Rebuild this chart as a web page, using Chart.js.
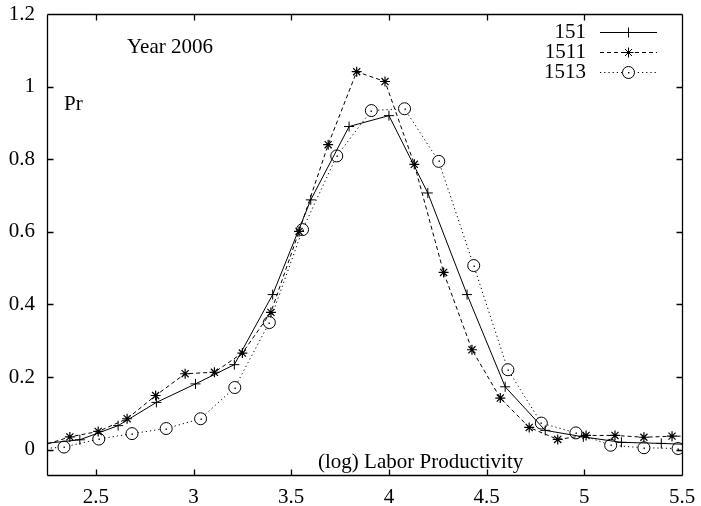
<!DOCTYPE html>
<html lang="en">
<head>
<meta charset="UTF-8">
<title>Year 2006 - Pr</title>
<style>
    html, body { margin: 0; padding: 0; background: #fff; }
    #wrap { width: 701px; height: 506px; }
</style>
</head>
<body>
<div id="wrap"><canvas id="chart" width="701" height="506"></canvas></div>

<script src="https://cdn.jsdelivr.net/npm/chart.js"></script>
<script>
    // axis ticks
    const xTicks = [2.5, 3, 3.5, 4, 4.5, 5, 5.5];
    const yTicks = [0, 0.2, 0.4, 0.6, 0.8, 1, 1.2];

    // series 151 (+)
    const x151 = [2.222, 2.418, 2.614, 2.81, 3.01, 3.209, 3.405, 3.60, 3.796, 4.0, 4.199, 4.40, 4.595, 4.80, 4.995, 5.19, 5.394, 5.59];
    const y151 = [0.016, 0.027, 0.066, 0.130, 0.181, 0.234, 0.427, 0.688, 0.890, 0.920, 0.707, 0.427, 0.173, 0.053, 0.035, 0.020, 0.017, 0.013];

    // series 1511 (*)
    const x1511 = [2.22, 2.367, 2.512, 2.66, 2.806, 2.957, 3.107, 3.25, 3.396, 3.54, 3.689, 3.835, 3.98, 4.13, 4.28, 4.425, 4.57, 4.718, 4.864, 5.009, 5.157, 5.305, 5.449, 5.596];
    const y1511 = [0.010, 0.035, 0.050, 0.085, 0.149, 0.209, 0.213, 0.266, 0.378, 0.601, 0.840, 1.041, 1.014, 0.786, 0.488, 0.275, 0.142, 0.061, 0.028, 0.039, 0.039, 0.034, 0.037, 0.037];

    // series 1513 (o)
    const x1513 = [2.162, 2.337, 2.515, 2.685, 2.86, 3.036, 3.211, 3.388, 3.558, 3.733, 3.91, 4.08, 4.255, 4.434, 4.609, 4.78, 4.957, 5.135, 5.305, 5.48];
    const y1513 = [0.0, 0.007, 0.029, 0.044, 0.058, 0.085, 0.171, 0.350, 0.606, 0.809, 0.934, 0.939, 0.794, 0.507, 0.220, 0.073, 0.046, 0.012, 0.005, 0.003];

    const FONT = "'Liberation Serif', 'Times New Roman', serif";
    const FSIZE = 21;
    Chart.defaults.font.family = FONT;
    Chart.defaults.font.size = FSIZE;
    Chart.defaults.color = '#000';

    function pts(xs, ys) {
        return xs.map((x, i) => ({ x: x, y: ys[i] }));
    }

    function line(ctx, x1, y1, x2, y2) {
        ctx.moveTo(x1, y1);
        ctx.lineTo(x2, y2);
    }

    // frame, inward ticks, circle dots, free text and legend
    const gnuplotLook = {
        id: 'gnuplotLook',
        afterDraw(chart) {
            const ctx = chart.ctx;
            const a = chart.chartArea;
            const xs = chart.scales.x, ys = chart.scales.y;
            const L = Math.round(a.left) + 0.5, R = Math.round(a.right) + 0.5;
            const T = Math.round(a.top) + 0.5, B = Math.round(a.bottom) + 0.5;
            ctx.save();
            ctx.strokeStyle = '#000';
            ctx.fillStyle = '#000';
            ctx.lineWidth = 1.3;
            ctx.setLineDash([]);
            ctx.beginPath();
            line(ctx, L, T, R, T);
            line(ctx, R, T, R, B);
            line(ctx, R, B, L, B);
            line(ctx, L, B, L, T);
            xs.ticks.forEach(t => {
                const px = Math.round(xs.getPixelForValue(t.value)) + 0.5;
                line(ctx, px, B, px, B - 6);
                line(ctx, px, T, px, T + 6);
            });
            ys.ticks.forEach(t => {
                const py = Math.round(ys.getPixelForValue(t.value)) + 0.5;
                line(ctx, L, py, L + 6, py);
                line(ctx, R, py, R - 6, py);
            });
            ctx.stroke();

            // centre dot inside the open circles
            chart.getDatasetMeta(2).data.forEach(p => {
                if (p.x >= a.left && p.x <= a.right) {
                    ctx.fillRect(Math.round(p.x) - 0.5, Math.round(p.y) - 0.5, 1.4, 1.4);
                }
            });

            ctx.font = FSIZE + 'px ' + FONT;
            ctx.textBaseline = 'middle';
            ctx.textAlign = 'left';
            ctx.fillText('Year 2006', 127, 47);
            ctx.fillText('Pr', 64, 104);
            ctx.fillText('(log) Labor Productivity', 318, 462);

            // legend
            ctx.lineWidth = 1;
            chart.data.datasets.forEach((ds, i) => {
                const y = 32 + i * 20;
                ctx.textAlign = 'right';
                ctx.fillText(ds.label, 586, y);
                ctx.beginPath();
                ctx.setLineDash(ds.borderDash || []);
                line(ctx, 600, y + 0.5, 657, y + 0.5);
                ctx.stroke();
                ctx.setLineDash([]);
                const mx = 628.5, my = y + 0.5;
                ctx.beginPath();
                const r = ds.pointRadius;
                if (ds.pointStyle === 'circle') {
                    ctx.fillStyle = '#fff';
                    ctx.arc(mx, my, r, 0, Math.PI * 2);
                    ctx.fill();
                    ctx.stroke();
                    ctx.fillStyle = '#000';
                    ctx.fillRect(mx - 0.5, my - 0.5, 1.4, 1.4);
                } else {
                    line(ctx, mx - r, my, mx + r, my);
                    line(ctx, mx, my - r, mx, my + r);
                    if (ds.pointStyle === 'star') {
                        const d = r * Math.SQRT1_2;
                        line(ctx, mx - d, my - d, mx + d, my + d);
                        line(ctx, mx - d, my + d, mx + d, my - d);
                    }
                    ctx.stroke();
                }
            });
            ctx.restore();
        }
    };

    new Chart(document.getElementById('chart'), {
        type: 'line',
        data: {
            datasets: [
                {
                    label: '151',
                    data: pts(x151, y151),
                    borderColor: '#000', borderWidth: 1,
                    pointStyle: 'cross', pointRadius: 5,
                    pointBorderColor: '#000', pointBorderWidth: 1,
                    tension: 0
                },
                {
                    label: '1511',
                    data: pts(x1511, y1511),
                    borderColor: '#000', borderWidth: 1, borderDash: [4, 3],
                    pointStyle: 'star', pointRadius: 5,
                    pointBorderColor: '#000', pointBorderWidth: 1.2,
                    tension: 0
                },
                {
                    label: '1513',
                    data: pts(x1513, y1513),
                    borderColor: '#000', borderWidth: 1, borderDash: [1.2, 3],
                    pointStyle: 'circle', pointRadius: 6,
                    pointBackgroundColor: '#fff',
                    pointBorderColor: '#000', pointBorderWidth: 1,
                    tension: 0
                }
            ]
        },
        options: {
            responsive: false,
            animation: false,
            layout: { padding: { top: 14, right: 19, left: 0, bottom: 0 } },
            plugins: { legend: { display: false }, tooltip: { enabled: false } },
            scales: {
                x: {
                    type: 'linear',
                    min: 2.25, max: 5.5,
                    grid: { display: false, drawTicks: false },
                    border: { display: false },
                    afterBuildTicks: s => { s.ticks = xTicks.map(v => ({ value: v })); },
                    afterFit: s => {
                        s.height = 31;
                        s.paddingLeft = 0; s.paddingRight = 0;
                    },
                    ticks: { padding: 10, maxRotation: 0, callback: v => String(v) }
                },
                y: {
                    min: -0.07, max: 1.2,
                    grid: { display: false, drawTicks: false },
                    border: { display: false },
                    afterBuildTicks: s => { s.ticks = yTicks.map(v => ({ value: v })); },
                    afterFit: s => {
                        s.width = 47;
                        s.paddingTop = 0; s.paddingBottom = 0;
                    },
                    ticks: { padding: 12, callback: v => String(v) }
                }
            }
        },
        plugins: [gnuplotLook]
    });
</script>
</body>
</html>
